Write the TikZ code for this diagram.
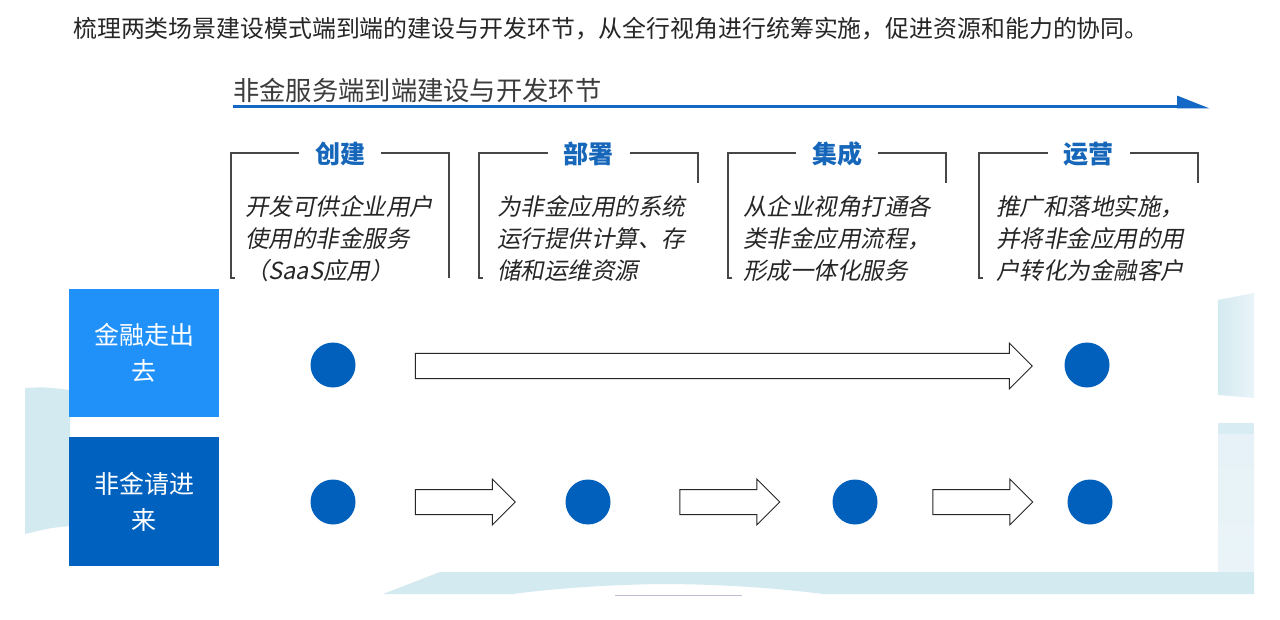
\documentclass[tikz,border=0pt]{standalone}
\usepackage{fontspec}
\setmainfont{Noto Sans CJK SC}
\newfontfamily\cjkit[FakeSlant=0.2]{Noto Sans CJK SC}
\usepackage{tikz}
\usetikzlibrary{arrows.meta,positioning,shapes.arrows}

\definecolor{phaseblue}{RGB}{22,102,186}
\definecolor{lineblue}{RGB}{18,104,196}
\definecolor{dotblue}{RGB}{0,96,187}
\definecolor{boxa}{RGB}{33,145,250}
\definecolor{boxb}{RGB}{0,98,190}
\definecolor{bgblue}{RGB}{212,234,241}
\definecolor{bglight}{RGB}{234,244,248}
\definecolor{ink}{RGB}{38,38,38}

\begin{document}
\begin{tikzpicture}[x=1pt,y=-1pt,
  intro/.style={anchor=west,inner sep=0pt,text=ink,font=\fontsize{23.9}{28}\selectfont},
  headline/.style={anchor=west,inner sep=0pt,text=ink!90,font=\fontsize{26.3}{30}\selectfont},
  timeline/.style={lineblue,line width=3pt,-{Triangle[harpoon,length=29pt,width=22pt]}},
  bracket/.style={draw=ink!85,line width=1.4pt},
  phase/.style={fill=white,text=phaseblue,inner xsep=16pt,inner ysep=2pt,font=\fontsize{25}{28}\selectfont\bfseries},
  desc/.style={anchor=north west,inner sep=0pt,align=left,text=ink,font=\cjkit\fontsize{23.5}{32}\selectfont},
  rowbox/.style={minimum width=150pt,inner sep=0pt,align=center,text=white,font=\fontsize{25}{36}\selectfont},
  dot/.style={circle,fill=dotblue,minimum size=45pt,inner sep=0pt},
  blockarrow/.style={single arrow,draw=ink,fill=white,line width=1pt,inner xsep=0pt,inner ysep=12pt,
    single arrow head extend=10.5pt,single arrow tip angle=90}]
\useasboundingbox (0,0) rectangle (1280,620);
\fill[white] (0,0) rectangle (1280,620);

% light background bands
\fill[bgblue] (25,388) .. controls (45,387) .. (70,390) -- (70,526) .. controls (50,528) .. (25,534) -- cycle;
\shade[left color=bgblue,right color=bglight] (1218,300) -- (1254,293) -- (1254,398) -- (1218,395) -- cycle;
\shade[top color=bglight!80!bgblue,bottom color=bglight] (1218,434) rectangle (1254,572);
\fill[bgblue!90!white] (1218,423) rectangle (1254,434);
\fill[bgblue] (383,594) -- (440,572) -- (1254,572) -- (1254,594) -- (823,594)
  .. controls (760,586) and (700,584) .. (660,584) .. controls (600,585) and (550,589) .. (513,594) -- cycle;
\draw[blue!25!gray!40,line width=1pt] (615,595) -- (742,595);

% header
\node[intro] (intro) at (73,29) {梳理两类场景建设模式端到端的建设与开发环节，从全行视角进行统筹实施，促进资源和能力的协同。};
\node[headline] (head) at (233,90) {非金服务端到端建设与开发环节};
\coordinate (t0) at (233,107);
\coordinate (t1) at (1210,107);
\draw[timeline] (t0) -- (t1);

% phases
\draw[bracket] (235,278) -- (231,278) -- (231,153) -- (449,153) -- (449,278);
\draw[bracket] (483,278) -- (479,278) -- (479,153) -- (698,153) -- (698,183);
\draw[bracket] (732,278) -- (728,278) -- (728,153) -- (946,153) -- (946,183);
\draw[bracket] (983,278) -- (979,278) -- (979,153) -- (1198,153) -- (1198,183);
\node[phase] (create) at (340,154) {创建};
\node[phase] (deploy) at (588.5,154) {部署};
\node[phase] (integ) at (837,154) {集成};
\node[phase] (oper) at (1088.5,154) {运营};
\node[desc] (dcreate) at (245,195) {开发可供企业用户\\使用的非金服务\\（SaaS应用）};
\node[desc] (ddeploy) at (497,195) {为非金应用的系统\\运行提供计算、存\\储和运维资源};
\node[desc] (dinteg) at (743,195) {从企业视角打通各\\类非金应用流程，\\形成一体化服务};
\node[desc] (doper) at (996,195) {推广和落地实施，\\并将非金应用的用\\户转化为金融客户};

% rows
\node[rowbox,fill=boxa,minimum height=128pt] (goout) at (144,353) {金融走出\\去};
\node[rowbox,fill=boxb,minimum height=129pt] (comein) at (144,501.5) {非金请进\\来};

\node[dot] (a1) at (333,365) {};
\node[dot] (a4) at (1087,365) {};
\node[dot] (b1) at (333,502) {};
\node[dot] (b2) at (588,502) {};
\node[dot] (b3) at (855,502) {};
\node[dot] (b4) at (1090,502) {};

\node[blockarrow,minimum height=617pt] (ga) at (717.5,366) {};
\node[blockarrow,minimum height=100pt] (ca1) at (459,502) {};
\node[blockarrow,minimum height=100pt] (ca2) at (723.5,502) {};
\node[blockarrow,minimum height=100pt] (ca3) at (976.5,502) {};
\end{tikzpicture}
\end{document}
